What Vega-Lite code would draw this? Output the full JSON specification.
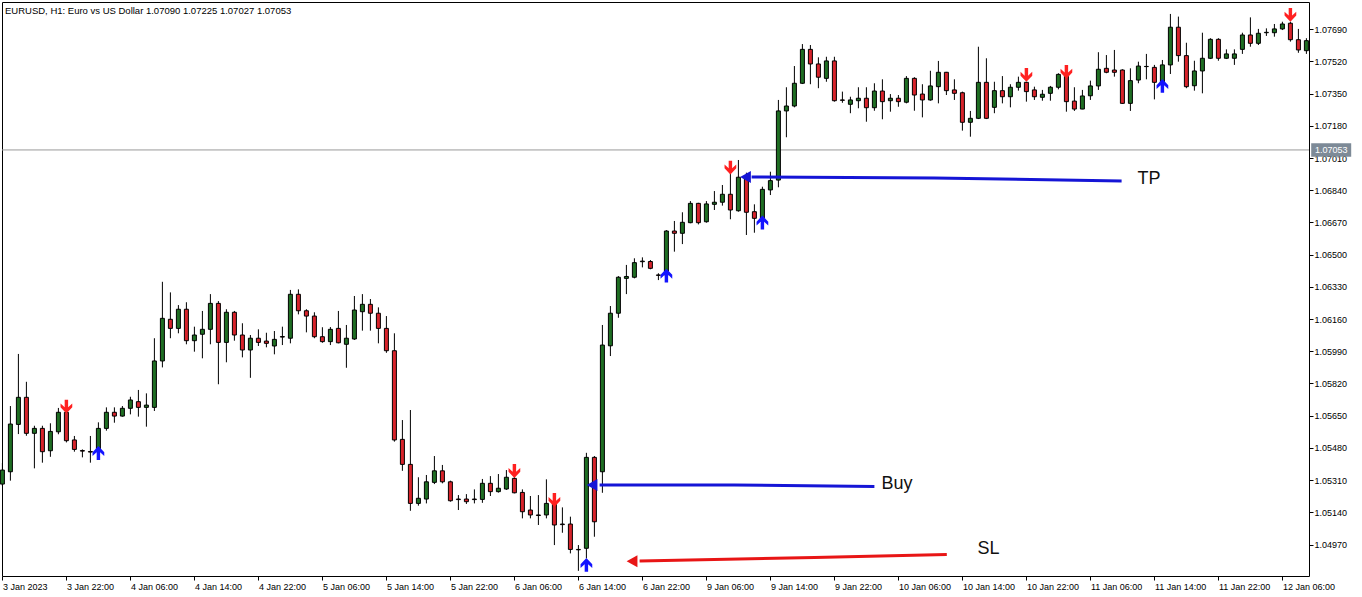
{
"$schema":"https://vega.github.io/schema/vega-lite/v6.json",
"width":1307,"height":574,
"autosize":{"type":"none"},
"padding":{"left":2,"top":2,"right":53,"bottom":21},
"background":"white",
"config":{"view":{"stroke":"black","strokeWidth":1},"font":"Liberation Sans",
 "axis":{"labelOverlap":false,"grid":false,"domain":false,"tickSize":4,"tickColor":"black","labelColor":"black","labelFont":"Liberation Sans","labelFontSize":9,"title":null},
 "scale":{"continuousPadding":0}},
"title":{"text":"EURUSD, H1:  Euro vs US Dollar  1.07090 1.07225 1.07027 1.07053","anchor":"start","frame":"group","orient":"top","offset":-13,"dx":3,"fontSize":9.5,"fontWeight":"normal","font":"Liberation Sans","color":"black"},
"datasets":{
"candles":[
{"i":0,"o":1.05289,"h":1.05400,"l":1.05279,"c":1.05363},
{"i":1,"o":1.05354,"h":1.05701,"l":1.05307,"c":1.05606},
{"i":2,"o":1.05604,"h":1.05976,"l":1.05553,"c":1.05747},
{"i":3,"o":1.05747,"h":1.05829,"l":1.05544,"c":1.05557},
{"i":4,"o":1.05557,"h":1.05597,"l":1.05372,"c":1.05583},
{"i":5,"o":1.05583,"h":1.05597,"l":1.05402,"c":1.05460},
{"i":6,"o":1.05465,"h":1.05610,"l":1.05433,"c":1.05567},
{"i":7,"o":1.05565,"h":1.05691,"l":1.05552,"c":1.05668},
{"i":8,"o":1.05668,"h":1.05706,"l":1.05509,"c":1.05518},
{"i":9,"o":1.05522,"h":1.05543,"l":1.05460,"c":1.05472},
{"i":10,"o":1.05466,"h":1.05472,"l":1.05430,"c":1.05463},
{"i":11,"o":1.05461,"h":1.05543,"l":1.05402,"c":1.05458},
{"i":12,"o":1.05465,"h":1.05615,"l":1.05458,"c":1.05583},
{"i":13,"o":1.05583,"h":1.05694,"l":1.05571,"c":1.05668},
{"i":14,"o":1.05668,"h":1.05694,"l":1.05613,"c":1.05648},
{"i":15,"o":1.05648,"h":1.05701,"l":1.05645,"c":1.05689},
{"i":16,"o":1.05689,"h":1.05750,"l":1.05657,"c":1.05733},
{"i":17,"o":1.05724,"h":1.05786,"l":1.05645,"c":1.05694},
{"i":18,"o":1.05694,"h":1.05768,"l":1.05592,"c":1.05706},
{"i":19,"o":1.05694,"h":1.06059,"l":1.05675,"c":1.05939},
{"i":20,"o":1.05939,"h":1.06357,"l":1.05905,"c":1.06164},
{"i":21,"o":1.06159,"h":1.06301,"l":1.06059,"c":1.06111},
{"i":22,"o":1.06111,"h":1.06234,"l":1.06085,"c":1.06212},
{"i":23,"o":1.06212,"h":1.06249,"l":1.06027,"c":1.06046},
{"i":24,"o":1.06046,"h":1.06120,"l":1.05988,"c":1.06076},
{"i":25,"o":1.06080,"h":1.06203,"l":1.05953,"c":1.06106},
{"i":26,"o":1.06106,"h":1.06292,"l":1.06027,"c":1.06243},
{"i":27,"o":1.06243,"h":1.06255,"l":1.05816,"c":1.06037},
{"i":28,"o":1.06037,"h":1.06212,"l":1.05932,"c":1.06196},
{"i":29,"o":1.06196,"h":1.06203,"l":1.06046,"c":1.06076},
{"i":30,"o":1.06076,"h":1.06138,"l":1.05958,"c":1.05997},
{"i":31,"o":1.05997,"h":1.06076,"l":1.05850,"c":1.06059},
{"i":32,"o":1.06059,"h":1.06106,"l":1.06018,"c":1.06037},
{"i":33,"o":1.06044,"h":1.06088,"l":1.06011,"c":1.06032},
{"i":34,"o":1.06018,"h":1.06097,"l":1.05974,"c":1.06053},
{"i":35,"o":1.06068,"h":1.06120,"l":1.06023,"c":1.06065},
{"i":36,"o":1.06059,"h":1.06314,"l":1.06032,"c":1.06291},
{"i":37,"o":1.06291,"h":1.06317,"l":1.06185,"c":1.06204},
{"i":38,"o":1.06204,"h":1.06212,"l":1.06090,"c":1.06176},
{"i":39,"o":1.06176,"h":1.06196,"l":1.06059,"c":1.06067},
{"i":40,"o":1.06067,"h":1.06117,"l":1.06035,"c":1.06041},
{"i":41,"o":1.06041,"h":1.06118,"l":1.06023,"c":1.06106},
{"i":42,"o":1.06111,"h":1.06203,"l":1.06032,"c":1.06035},
{"i":43,"o":1.06027,"h":1.06129,"l":1.05903,"c":1.06059},
{"i":44,"o":1.06055,"h":1.06282,"l":1.06050,"c":1.06208},
{"i":45,"o":1.06199,"h":1.06292,"l":1.06099,"c":1.06238},
{"i":46,"o":1.06238,"h":1.06266,"l":1.06099,"c":1.06191},
{"i":47,"o":1.06191,"h":1.06222,"l":1.06032,"c":1.06111},
{"i":48,"o":1.06111,"h":1.06176,"l":1.05982,"c":1.05993},
{"i":49,"o":1.05993,"h":1.06085,"l":1.05513,"c":1.05522},
{"i":50,"o":1.05525,"h":1.05627,"l":1.05359,"c":1.05393},
{"i":51,"o":1.05393,"h":1.05680,"l":1.05148,"c":1.05187},
{"i":52,"o":1.05187,"h":1.05325,"l":1.05175,"c":1.05214},
{"i":53,"o":1.05210,"h":1.05337,"l":1.05187,"c":1.05301},
{"i":54,"o":1.05298,"h":1.05437,"l":1.05289,"c":1.05359},
{"i":55,"o":1.05359,"h":1.05390,"l":1.05293,"c":1.05301},
{"i":56,"o":1.05301,"h":1.05307,"l":1.05196,"c":1.05201},
{"i":57,"o":1.05210,"h":1.05231,"l":1.05152,"c":1.05207},
{"i":58,"o":1.05210,"h":1.05236,"l":1.05184,"c":1.05196},
{"i":59,"o":1.05210,"h":1.05261,"l":1.05187,"c":1.05207},
{"i":60,"o":1.05208,"h":1.05316,"l":1.05190,"c":1.05293},
{"i":61,"o":1.05293,"h":1.05331,"l":1.05226,"c":1.05249},
{"i":62,"o":1.05249,"h":1.05342,"l":1.05244,"c":1.05267},
{"i":63,"o":1.05263,"h":1.05363,"l":1.05258,"c":1.05325},
{"i":64,"o":1.05319,"h":1.05337,"l":1.05240,"c":1.05243},
{"i":65,"o":1.05245,"h":1.05261,"l":1.05108,"c":1.05143},
{"i":66,"o":1.05152,"h":1.05226,"l":1.05108,"c":1.05126},
{"i":67,"o":1.05126,"h":1.05231,"l":1.05073,"c":1.05123},
{"i":68,"o":1.05126,"h":1.05314,"l":1.05108,"c":1.05187},
{"i":69,"o":1.05187,"h":1.05221,"l":1.04967,"c":1.05073},
{"i":70,"o":1.05078,"h":1.05166,"l":1.05032,"c":1.05075},
{"i":71,"o":1.05078,"h":1.05117,"l":1.04923,"c":1.04944},
{"i":72,"o":1.04944,"h":1.04967,"l":1.04831,"c":1.04942},
{"i":73,"o":1.04950,"h":1.05454,"l":1.04897,"c":1.05430},
{"i":74,"o":1.05430,"h":1.05437,"l":1.05011,"c":1.05090},
{"i":75,"o":1.05354,"h":1.06129,"l":1.05243,"c":1.06023},
{"i":76,"o":1.06019,"h":1.06229,"l":1.05965,"c":1.06191},
{"i":77,"o":1.06191,"h":1.06387,"l":1.06167,"c":1.06381},
{"i":78,"o":1.06375,"h":1.06446,"l":1.06292,"c":1.06385},
{"i":79,"o":1.06381,"h":1.06481,"l":1.06375,"c":1.06458},
{"i":80,"o":1.06463,"h":1.06486,"l":1.06433,"c":1.06466},
{"i":81,"o":1.06464,"h":1.06472,"l":1.06423,"c":1.06428},
{"i":82,"o":1.06393,"h":1.06402,"l":1.06366,"c":1.06391},
{"i":83,"o":1.06393,"h":1.06630,"l":1.06390,"c":1.06625},
{"i":84,"o":1.06625,"h":1.06678,"l":1.06516,"c":1.06613},
{"i":85,"o":1.06613,"h":1.06724,"l":1.06556,"c":1.06671},
{"i":86,"o":1.06669,"h":1.06783,"l":1.06666,"c":1.06771},
{"i":87,"o":1.06771,"h":1.06774,"l":1.06660,"c":1.06669},
{"i":88,"o":1.06674,"h":1.06783,"l":1.06669,"c":1.06768},
{"i":89,"o":1.06766,"h":1.06836,"l":1.06736,"c":1.06777},
{"i":90,"o":1.06777,"h":1.06868,"l":1.06759,"c":1.06819},
{"i":91,"o":1.06819,"h":1.06933,"l":1.06687,"c":1.06736},
{"i":92,"o":1.06732,"h":1.07000,"l":1.06727,"c":1.06909},
{"i":93,"o":1.06909,"h":1.06933,"l":1.06604,"c":1.06724},
{"i":94,"o":1.06727,"h":1.06766,"l":1.06616,"c":1.06692},
{"i":95,"o":1.06687,"h":1.06859,"l":1.06683,"c":1.06845},
{"i":96,"o":1.06842,"h":1.06938,"l":1.06815,"c":1.06891},
{"i":97,"o":1.06894,"h":1.07317,"l":1.06856,"c":1.07259},
{"i":98,"o":1.07259,"h":1.07384,"l":1.07120,"c":1.07285},
{"i":99,"o":1.07285,"h":1.07496,"l":1.07278,"c":1.07405},
{"i":100,"o":1.07405,"h":1.07612,"l":1.07401,"c":1.07584},
{"i":101,"o":1.07584,"h":1.07607,"l":1.07400,"c":1.07507},
{"i":102,"o":1.07507,"h":1.07542,"l":1.07379,"c":1.07437},
{"i":103,"o":1.07431,"h":1.07545,"l":1.07413,"c":1.07523},
{"i":104,"o":1.07523,"h":1.07545,"l":1.07308,"c":1.07313},
{"i":105,"o":1.07317,"h":1.07361,"l":1.07302,"c":1.07315},
{"i":106,"o":1.07294,"h":1.07334,"l":1.07247,"c":1.07317},
{"i":107,"o":1.07313,"h":1.07384,"l":1.07273,"c":1.07326},
{"i":108,"o":1.07326,"h":1.07384,"l":1.07202,"c":1.07276},
{"i":109,"o":1.07276,"h":1.07405,"l":1.07260,"c":1.07364},
{"i":110,"o":1.07364,"h":1.07426,"l":1.07215,"c":1.07308},
{"i":111,"o":1.07313,"h":1.07348,"l":1.07255,"c":1.07326},
{"i":112,"o":1.07326,"h":1.07343,"l":1.07281,"c":1.07308},
{"i":113,"o":1.07305,"h":1.07443,"l":1.07299,"c":1.07431},
{"i":114,"o":1.07431,"h":1.07437,"l":1.07260,"c":1.07343},
{"i":115,"o":1.07348,"h":1.07400,"l":1.07225,"c":1.07317},
{"i":116,"o":1.07317,"h":1.07471,"l":1.07313,"c":1.07391},
{"i":117,"o":1.07387,"h":1.07523,"l":1.07299,"c":1.07463},
{"i":118,"o":1.07463,"h":1.07465,"l":1.07343,"c":1.07366},
{"i":119,"o":1.07370,"h":1.07426,"l":1.07317,"c":1.07352},
{"i":120,"o":1.07355,"h":1.07361,"l":1.07155,"c":1.07199},
{"i":121,"o":1.07199,"h":1.07259,"l":1.07123,"c":1.07220},
{"i":122,"o":1.07220,"h":1.07598,"l":1.07216,"c":1.07410},
{"i":123,"o":1.07410,"h":1.07537,"l":1.07216,"c":1.07220},
{"i":124,"o":1.07278,"h":1.07413,"l":1.07247,"c":1.07366},
{"i":125,"o":1.07366,"h":1.07443,"l":1.07299,"c":1.07334},
{"i":126,"o":1.07334,"h":1.07400,"l":1.07278,"c":1.07384},
{"i":127,"o":1.07384,"h":1.07440,"l":1.07366,"c":1.07410},
{"i":128,"o":1.07410,"h":1.07413,"l":1.07308,"c":1.07361},
{"i":129,"o":1.07370,"h":1.07387,"l":1.07317,"c":1.07334},
{"i":130,"o":1.07331,"h":1.07370,"l":1.07313,"c":1.07347},
{"i":131,"o":1.07352,"h":1.07391,"l":1.07313,"c":1.07384},
{"i":132,"o":1.07384,"h":1.07458,"l":1.07373,"c":1.07452},
{"i":133,"o":1.07443,"h":1.07486,"l":1.07255,"c":1.07308},
{"i":134,"o":1.07311,"h":1.07384,"l":1.07259,"c":1.07269},
{"i":135,"o":1.07269,"h":1.07370,"l":1.07268,"c":1.07338},
{"i":136,"o":1.07339,"h":1.07419,"l":1.07317,"c":1.07391},
{"i":137,"o":1.07391,"h":1.07569,"l":1.07370,"c":1.07479},
{"i":138,"o":1.07484,"h":1.07554,"l":1.07458,"c":1.07463},
{"i":139,"o":1.07475,"h":1.07581,"l":1.07440,"c":1.07463},
{"i":140,"o":1.07475,"h":1.07479,"l":1.07296,"c":1.07299},
{"i":141,"o":1.07299,"h":1.07484,"l":1.07259,"c":1.07419},
{"i":142,"o":1.07422,"h":1.07519,"l":1.07405,"c":1.07496},
{"i":143,"o":1.07493,"h":1.07560,"l":1.07426,"c":1.07494},
{"i":144,"o":1.07489,"h":1.07502,"l":1.07320,"c":1.07410},
{"i":145,"o":1.07410,"h":1.07528,"l":1.07405,"c":1.07502},
{"i":146,"o":1.07502,"h":1.07771,"l":1.07454,"c":1.07701},
{"i":147,"o":1.07701,"h":1.07757,"l":1.07519,"c":1.07551},
{"i":148,"o":1.07551,"h":1.07619,"l":1.07379,"c":1.07387},
{"i":149,"o":1.07392,"h":1.07524,"l":1.07366,"c":1.07470},
{"i":150,"o":1.07470,"h":1.07672,"l":1.07352,"c":1.07537},
{"i":151,"o":1.07537,"h":1.07643,"l":1.07533,"c":1.07637},
{"i":152,"o":1.07637,"h":1.07643,"l":1.07524,"c":1.07537},
{"i":153,"o":1.07537,"h":1.07584,"l":1.07533,"c":1.07560},
{"i":154,"o":1.07537,"h":1.07584,"l":1.07502,"c":1.07560},
{"i":155,"o":1.07584,"h":1.07672,"l":1.07560,"c":1.07660},
{"i":156,"o":1.07660,"h":1.07753,"l":1.07598,"c":1.07616},
{"i":157,"o":1.07616,"h":1.07692,"l":1.07607,"c":1.07669},
{"i":158,"o":1.07672,"h":1.07695,"l":1.07655,"c":1.07674},
{"i":159,"o":1.07672,"h":1.07718,"l":1.07651,"c":1.07692},
{"i":160,"o":1.07692,"h":1.07730,"l":1.07686,"c":1.07718},
{"i":161,"o":1.07722,"h":1.07730,"l":1.07625,"c":1.07635},
{"i":162,"o":1.07635,"h":1.07692,"l":1.07566,"c":1.07581},
{"i":163,"o":1.07577,"h":1.07643,"l":1.07560,"c":1.07630}
],
"arrows":[
{"i":8,"p":1.05698,"dir":"down"},{"i":64,"p":1.05358,"dir":"down"},{"i":69,"p":1.05205,"dir":"down"},{"i":91,"p":1.06960,"dir":"down"},{"i":128,"p":1.07449,"dir":"down"},{"i":133,"p":1.07465,"dir":"down"},{"i":161,"p":1.07766,"dir":"down"},
{"i":12,"p":1.05453,"dir":"up"},{"i":73,"p":1.04862,"dir":"up"},{"i":83,"p":1.06390,"dir":"up"},{"i":95,"p":1.06670,"dir":"up"},{"i":145,"p":1.07391,"dir":"up"}
],
"lines":[
{"n":"TP","i":93.65,"p":1.06910},{"n":"TP","i":116.5,"p":1.06905},{"n":"TP","i":139.9,"p":1.06889},
{"n":"Buy","i":74.65,"p":1.05284},{"n":"Buy","i":91.5,"p":1.05284},{"n":"Buy","i":109.0,"p":1.05276},
{"n":"SL","i":79.65,"p":1.04883},{"n":"SL","i":101.5,"p":1.04901},{"n":"SL","i":118.05,"p":1.04917}
],
"heads":[
{"n":"TP","i":92.96,"p":1.06910},{"n":"Buy","i":73.78,"p":1.05284},{"n":"SL","i":78.78,"p":1.04882}
],
"labels":[
{"t":"TP","i":141.9,"p":1.06900},{"t":"Buy","i":109.9,"p":1.05289},{"t":"SL","i":121.9,"p":1.04946}
],
"current":[{"p":1.07053,"label":"1.07053"}]
},
"layer":[
{"data":{"name":"current"},"mark":{"type":"rule","color":"#9a9a9a","strokeWidth":1},
 "encoding":{"y":{"field":"p","type":"quantitative","scale":{"domain":[1.048037,1.078341],"nice":false,"zero":false,"padding":0},
   "axis":{"orient":"right","values":[1.0497,1.0514,1.0531,1.0548,1.0565,1.0582,1.0599,1.0616,1.0633,1.065,1.0667,1.0684,1.0701,1.0718,1.0735,1.0752,1.0769],
    "tickCount":40,"format":".5f","labelAlign":"left","labelBaseline":"middle","labelPadding":1,"labelOverlap":false,"labelBound":false}}}},
{"data":{"name":"candles"},"mark":{"type":"rule","color":"black","strokeWidth":1},
 "encoding":{
  "x":{"field":"i","type":"quantitative","scale":{"domain":[-0.05,163.325],"nice":false,"zero":false,"padding":0},
   "axis":{"orient":"bottom","values":[0,8,16,24,32,40,48,56,64,72,80,88,96,104,112,120,128,136,144,152,160],"tickCount":60,
    "labelExpr":"['3 Jan 2023','3 Jan 22:00','4 Jan 06:00','4 Jan 14:00','4 Jan 22:00','5 Jan 06:00','5 Jan 14:00','5 Jan 22:00','6 Jan 06:00','6 Jan 14:00','6 Jan 22:00','9 Jan 06:00','9 Jan 14:00','9 Jan 22:00','10 Jan 06:00','10 Jan 14:00','10 Jan 22:00','11 Jan 06:00','11 Jan 14:00','11 Jan 22:00','12 Jan 06:00'][round(datum.value/8)]",
    "labelAlign":"left","labelBaseline":"top","labelPadding":2,"labelFlush":false,"labelOverlap":false}},
  "y":{"field":"l","type":"quantitative","axis":{"orient":"right","values":[1.0497,1.0514,1.0531,1.0548,1.0565,1.0582,1.0599,1.0616,1.0633,1.065,1.0667,1.0684,1.0701,1.0718,1.0735,1.0752,1.0769],
    "tickCount":40,"format":".5f","labelAlign":"left","labelBaseline":"middle","labelPadding":1,"labelOverlap":false,"labelBound":false}},
  "y2":{"field":"h"}}},
{"data":{"name":"candles"},"mark":{"type":"bar","width":4,"stroke":"black","strokeWidth":1},
 "encoding":{
  "x":{"field":"i","type":"quantitative"},
  "y":{"field":"o","type":"quantitative"},
  "y2":{"field":"c"},
  "fill":{"condition":{"test":"datum.c >= datum.o","value":"#1f6e23"},"value":"#d7232b"}}},
{"data":{"name":"arrows"},"transform":[{"filter":"datum.dir === 'down'"}],
 "mark":{"type":"point","filled":true,"opacity":1,"size":190,"color":"#ff2020","shape":"M -0.25 -1 L 0.25 -1 L 0.25 0.1 L 0.85 -0.45 L 0.85 0.1 L 0 1 L -0.85 0.1 L -0.85 -0.45 L -0.25 0.1 Z"},
 "encoding":{"x":{"field":"i","type":"quantitative"},"y":{"field":"p","type":"quantitative"}}},
{"data":{"name":"arrows"},"transform":[{"filter":"datum.dir === 'up'"}],
 "mark":{"type":"point","filled":true,"opacity":1,"size":190,"color":"#1414ff","shape":"M -0.25 1 L 0.25 1 L 0.25 -0.1 L 0.85 0.45 L 0.85 -0.1 L 0 -1 L -0.85 -0.1 L -0.85 0.45 L -0.25 -0.1 Z"},
 "encoding":{"x":{"field":"i","type":"quantitative"},"y":{"field":"p","type":"quantitative"}}},
{"data":{"name":"lines"},"mark":{"type":"line","strokeWidth":3},
 "encoding":{"x":{"field":"i","type":"quantitative"},"y":{"field":"p","type":"quantitative"},
  "detail":{"field":"n"},
  "color":{"condition":{"test":"datum.n === 'SL'","value":"#e81515"},"value":"#1515d6"}}},
{"data":{"name":"heads"},"mark":{"type":"point","filled":true,"opacity":1,"size":144,"shape":"M -1 0 L 0.8 -1 L 0.8 1 Z"},
 "encoding":{"x":{"field":"i","type":"quantitative"},"y":{"field":"p","type":"quantitative"},
  "color":{"condition":{"test":"datum.n === 'SL'","value":"#e81515"},"value":"#1515d6"}}},
{"data":{"name":"labels"},"mark":{"type":"text","align":"left","baseline":"middle","font":"Liberation Sans","fontSize":18,"color":"#111111"},
 "encoding":{"x":{"field":"i","type":"quantitative"},"y":{"field":"p","type":"quantitative"},"text":{"field":"t"}}},
{"data":{"name":"current"},"mark":{"type":"point","filled":true,"opacity":1,"size":1600,"color":"#7d8a97","shape":"M -1 -0.34 L 1 -0.34 L 1 0.34 L -1 0.34 Z"},
 "encoding":{"x":{"datum":166.1,"type":"quantitative"},"y":{"field":"p","type":"quantitative"}}},
{"data":{"name":"current"},"mark":{"type":"text","align":"center","baseline":"middle","font":"Liberation Sans","fontSize":9,"color":"white"},
 "encoding":{"x":{"datum":166.1,"type":"quantitative"},"y":{"field":"p","type":"quantitative"},"text":{"field":"label"}}}
]
}
